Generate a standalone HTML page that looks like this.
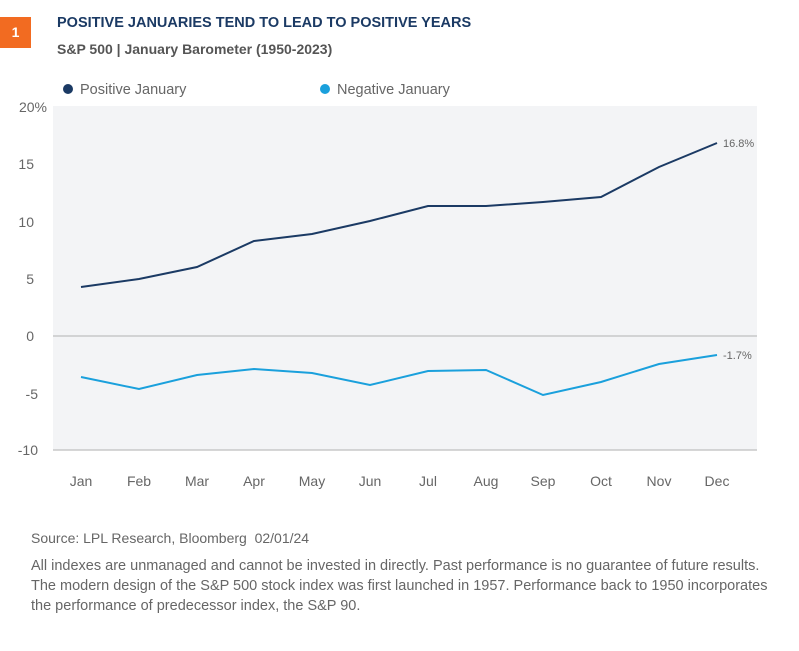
<!DOCTYPE html>
<html><head><meta charset="utf-8"><style>
body{margin:0;background:#fff;font-family:"Liberation Sans",sans-serif;}
.wrap{position:relative;width:799px;height:651px;overflow:hidden;}
.t{position:absolute;white-space:nowrap;}
</style></head><body><div class="wrap">
<div style="position:absolute;left:0;top:17px;width:31px;height:31px;background:#f26b21;color:#fff;font-weight:bold;font-size:14px;line-height:31px;text-align:center;">1</div>
<div class="t" style="left:57px;top:15px;font-size:14.5px;font-weight:bold;color:#1b3a64;">POSITIVE JANUARIES TEND TO LEAD TO POSITIVE YEARS</div>
<div class="t" style="left:57px;top:41px;font-size:14px;color:#555;font-weight:bold;">S&amp;P 500 | January Barometer (1950-2023)</div>
<svg width="799" height="651" style="position:absolute;left:0;top:0">
<circle cx="68" cy="89" r="5" fill="#1b3a64"/>
<text x="80" y="94" font-size="14.5" fill="#666" font-family="Liberation Sans">Positive January</text>
<circle cx="325" cy="89" r="5" fill="#1aa0dc"/>
<text x="337" y="94" font-size="14.5" fill="#666" font-family="Liberation Sans">Negative January</text>
<rect x="53" y="106" width="704" height="344" fill="#f3f4f6"/>
<line x1="53" y1="336" x2="757" y2="336" stroke="#c8c8c8" stroke-width="1.5"/>
<line x1="53" y1="450" x2="757" y2="450" stroke="#c8c8c8" stroke-width="1.5"/>
<g font-size="14" fill="#666" font-family="Liberation Sans" text-anchor="end">
<text x="47" y="112">20%</text><text x="34" y="169">15</text><text x="34" y="227">10</text><text x="34" y="284">5</text><text x="34" y="341">0</text><text x="38" y="399">-5</text><text x="38" y="455">-10</text>
</g>
<g font-size="14" fill="#666" font-family="Liberation Sans" text-anchor="middle">
<text x="81" y="486">Jan</text><text x="139" y="486">Feb</text><text x="197" y="486">Mar</text><text x="254" y="486">Apr</text><text x="312" y="486">May</text><text x="370" y="486">Jun</text><text x="428" y="486">Jul</text><text x="486" y="486">Aug</text><text x="543" y="486">Sep</text><text x="601" y="486">Oct</text><text x="659" y="486">Nov</text><text x="717" y="486">Dec</text>
</g>
<polyline fill="none" stroke="#1b3a64" stroke-width="2" points="81,287 139,279 197,267 254,241 312,234 370,221 428,206 486,206 543,202 601,197 659,167 717,143"/>
<polyline fill="none" stroke="#1aa0dc" stroke-width="2" points="81,377 139,389 197,375 254,369 312,373 370,385 428,371 486,370 543,395 601,382 659,364 717,355"/>
<text x="723" y="147" font-size="11" fill="#666" font-family="Liberation Sans">16.8%</text>
<text x="723" y="359" font-size="11" fill="#666" font-family="Liberation Sans">-1.7%</text>
</svg>
<div class="t" style="left:31px;top:530px;font-size:14px;color:#666;">Source: LPL Research, Bloomberg&nbsp; 02/01/24</div>
<div class="t" style="left:31px;top:556px;font-size:14.5px;color:#666;line-height:20px;">All indexes are unmanaged and cannot be invested in directly. Past performance is no guarantee of future results.<br>The modern design of the S&amp;P 500 stock index was first launched in 1957. Performance back to 1950 incorporates<br>the performance of predecessor index, the S&amp;P 90.</div>
</div></body></html>
